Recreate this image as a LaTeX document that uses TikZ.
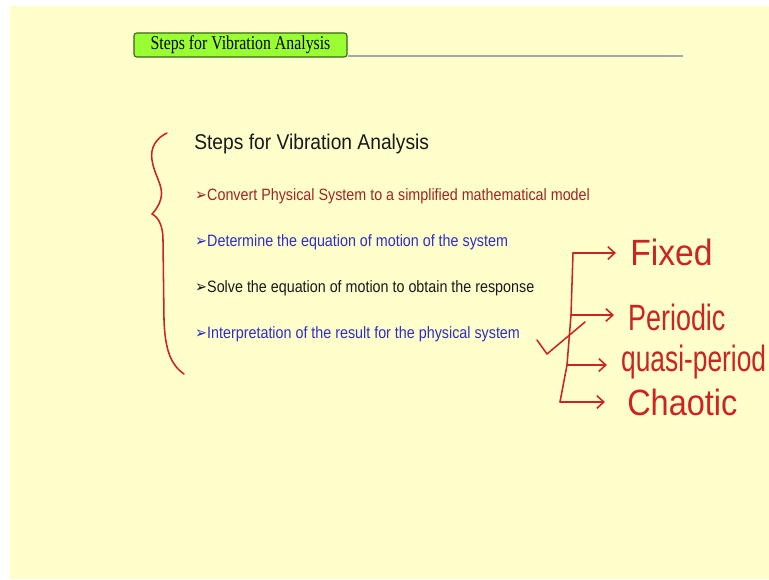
\documentclass[tikz,border=0pt]{standalone}
\usepackage{fontspec}
\setmainfont{Liberation Serif}
\setsansfont{Liberation Sans}
\newfontfamily\bulletfont{DejaVu Sans}
\usepackage{graphicx}
\usetikzlibrary{arrows.meta, positioning}

\definecolor{slidebg}{RGB}{255,255,204}
\definecolor{headergreen}{RGB}{153,255,51}
\definecolor{headerline}{RGB}{60,100,30}
\definecolor{stepred}{RGB}{160,36,36}
\definecolor{stepblue}{RGB}{45,45,200}
\definecolor{stepblack}{RGB}{25,25,25}
\definecolor{handred}{RGB}{205,35,35}

\begin{document}
\begin{tikzpicture}[
    x=0.025cm, y=-0.025cm,
    headerbox/.style={draw=headerline, fill=headergreen, rounded corners=2pt, line width=0.8pt,
        minimum width=5.325cm, minimum height=0.6cm, inner sep=0pt, font=\fontsize{13.9}{14}\selectfont},
    ruleline/.style={draw=gray!70, line width=2pt},
    titletext/.style={anchor=west, inner sep=0pt, text=stepblack, font=\sffamily\fontsize{15.2}{16}\selectfont, xscale=0.9},
    item/.style={anchor=west, inner sep=0pt, font=\sffamily\fontsize{11.7}{14}\selectfont, xscale=0.87},
    hand/.style={draw=handred, line width=1.1pt, line cap=round, line join=round},
    handarrow/.style={hand, -{Straight Barb[length=5pt, width=9pt]}, shorten >=0.35cm},
    handtext/.style={anchor=west, inner sep=0pt, text=handred, font=\sffamily\fontsize{26}{26}\selectfont, xscale=0.8}
]

% Slide background
\useasboundingbox (0,0) rectangle (769,579);
\fill[white] (0,0) rectangle (769,579);
\fill[slidebg] (10,6) rectangle (769,579);

% Header
\node[headerbox] (header) at (240.5,45) {\scalebox{0.81}[1]{Steps for Vibration Analysis}};
\coordinate (ruleend) at (683,56);
\draw[ruleline] (header.east |- ruleend) -- (ruleend);

% Steps
\node[titletext] (title) at (194,144) {Steps for Vibration Analysis};
\node[item, text=stepred] (s1) at (195,196) {{\bulletfont ➢}Convert Physical System to a simplified mathematical model};
\node[item, text=stepblue] (s2) at (195,242) {{\bulletfont ➢}Determine the equation of motion of the system};
\node[item, text=stepblack] (s3) at (195,288) {{\bulletfont ➢}Solve the equation of motion to obtain the response};
\node[item, text=stepblue] (s4) at (195,334) {{\bulletfont ➢}Interpretation of the result for the physical system};

% Hand-drawn brace
\draw[hand] (167,133) .. controls (156,138) and (150,148) .. (152,160)
    .. controls (154,175) and (164,186) .. (161,198)
    .. controls (159,206) and (155,211) .. (152,214)
    .. controls (158,217) and (163,225) .. (163,240) -- (164,320)
    .. controls (165,350) and (171,365) .. (184,374);

% Response types
\node[handtext, xscale=1.15] (fixed) at (630,252) {Fixed};
\node[handtext, xscale=0.92] (periodic) at (628,317) {Periodic};
\node[handtext, xscale=0.9] (quasi) at (621,362) {quasi-period};
\node[handtext, xscale=1.11] (chaotic) at (627,402) {Chaotic};

\coordinate (b1) at (573,253);
\coordinate (b2) at (571,315);
\coordinate (b3) at (567,365);
\coordinate (b4) at (560,402);
\draw[hand] (b1) -- (b2) -- (b3) -- (b4);
\draw[handarrow] (b1) -- (b1 -| fixed.west);
\draw[handarrow] (b2) -- (b2 -| periodic.west);
\draw[handarrow] (b3) -- (b3 -| quasi.west);
\draw[handarrow, shorten >=0.55cm] (b4) -- (b4 -| chaotic.west);

% Check mark
\coordinate (c1) at (537,340);
\coordinate (c2) at (547,354);
\coordinate (c3) at (585,322);
\draw[hand] (c1) -- (c2) -- (c3);

\end{tikzpicture}
\end{document}
